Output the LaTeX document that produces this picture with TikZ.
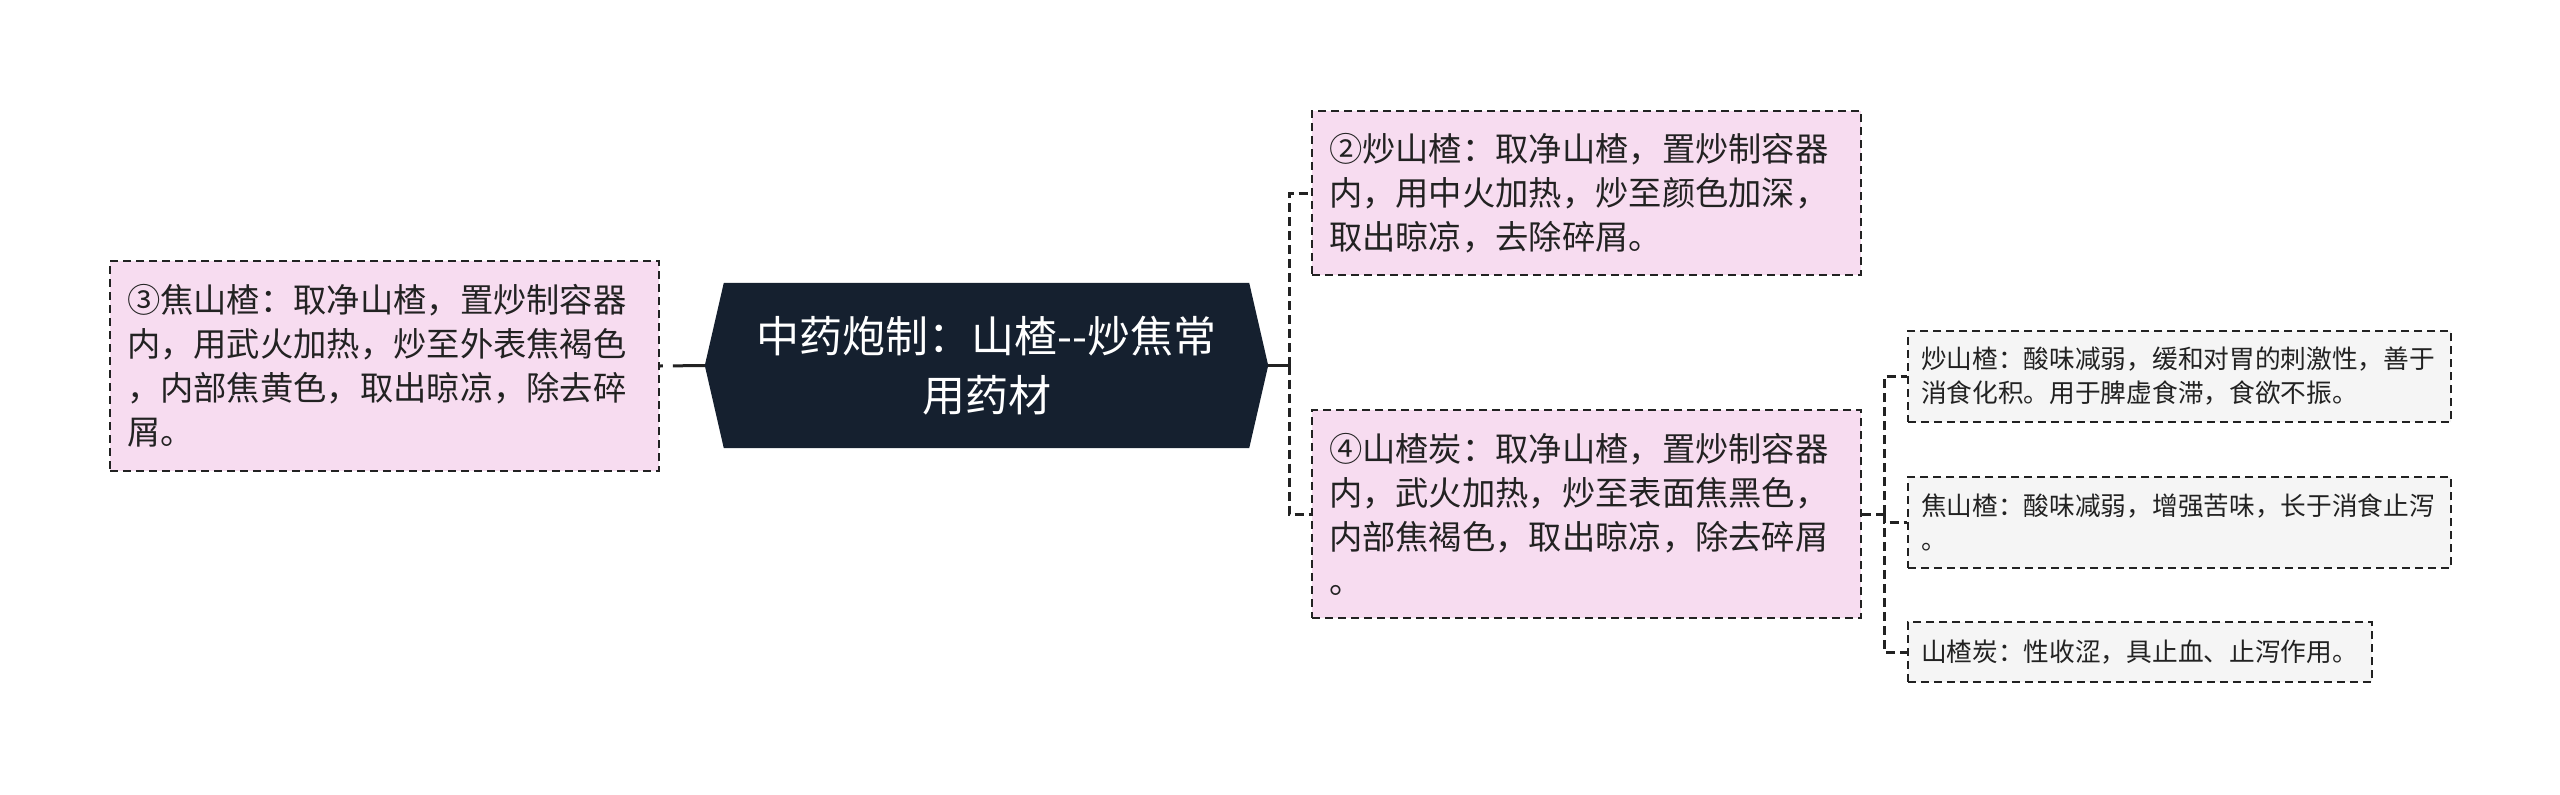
\documentclass[tikz,border=0pt]{standalone}
\usepackage{fontspec}
\setmainfont{Noto Sans CJK SC}[Ligatures=TeXOff]
\usetikzlibrary{backgrounds}
\definecolor{navy}{HTML}{15202F}
\definecolor{pinkfill}{HTML}{F7DCF0}
\definecolor{greyfill}{HTML}{F5F5F5}
\definecolor{ink}{HTML}{222222}
\begin{document}
\begin{tikzpicture}[x=1pt,y=-1pt,
    title/.style={text=white, align=center, inner sep=0pt,
        minimum width=563pt, minimum height=165pt,
        font=\fontsize{43}{59}\selectfont},
    pinkbox/.style={draw=ink, fill=pinkfill, line width=2pt,
        dash pattern=on 8pt off 5pt, inner xsep=17pt, inner ysep=0pt,
        text width=515pt, align=left, text=ink,
        font=\fontsize{33.3}{44}\selectfont},
    greybox/.style={draw=ink, fill=greyfill, line width=2pt,
        dash pattern=on 8pt off 5pt, inner xsep=13pt, inner ysep=0pt,
        text width=#1, align=left, text=ink,
        font=\fontsize{25.7}{34}\selectfont},
    stem/.style={draw=ink, line width=3pt},
    link/.style={draw=ink, line width=3pt, dash pattern=on 9pt off 5pt}]
    \useasboundingbox (0,0) rectangle (2560,795);
    \node[title] (title) at (986.5,365.5) {中药炮制：山楂--炒焦常\\用药材};
    \node[pinkbox, minimum height=210pt] (box3) at (384.5,366)
        {③焦山楂：取净山楂，置炒制容器\\内，用武火加热，炒至外表焦褐色\\，内部焦黄色，取出晾凉，除去碎\\屑。};
    \node[pinkbox, minimum height=164pt] (box2) at (1586.5,193)
        {②炒山楂：取净山楂，置炒制容器\\内，用中火加热，炒至颜色加深，\\取出晾凉，去除碎屑。};
    \node[pinkbox, minimum height=208pt] (box4) at (1586.5,514)
        {④山楂炭：取净山楂，置炒制容器\\内，武火加热，炒至表面焦黑色，\\内部焦褐色，取出晾凉，除去碎屑\\。};
    \node[greybox=517pt, minimum height=91pt] (g1) at (2179.5,376.5)
        {炒山楂：酸味减弱，缓和对胃的刺激性，善于\\消食化积。用于脾虚食滞，食欲不振。};
    \node[greybox=517pt, minimum height=91pt] (g2) at (2179.5,522.5)
        {焦山楂：酸味减弱，增强苦味，长于消食止泻\\。};
    \node[greybox=438pt, minimum height=60pt] (g3) at (2140,652)
        {山楂炭：性收涩，具止血、止泻作用。};
    \begin{scope}[on background layer]
        \fill[white] (0,0) rectangle (2560,795);
        \fill[navy] (title.west) -- ([xshift=19pt]title.north west)
            -- ([xshift=-19pt]title.north east) -- (title.east)
            -- ([xshift=-19pt]title.south east)
            -- ([xshift=19pt]title.south west) -- cycle;
    \end{scope}
    \coordinate (rj) at (1289,365.5);
    \coordinate (qj) at (1884,514);
    \draw[stem, dash pattern=on 32pt off 10pt] (title.west) -- (box3.east);
    \draw[stem] (title.east) -- (rj);
    \draw[link] (rj) |- (box2.west);
    \draw[link] (rj) |- (box4.west);
    \draw[link] (box4.east) -- (qj);
    \draw[link] (qj) |- (g1.west);
    \draw[link] (qj) |- (g2.west);
    \draw[link] (qj) |- (g3.west);
\end{tikzpicture}
\end{document}
